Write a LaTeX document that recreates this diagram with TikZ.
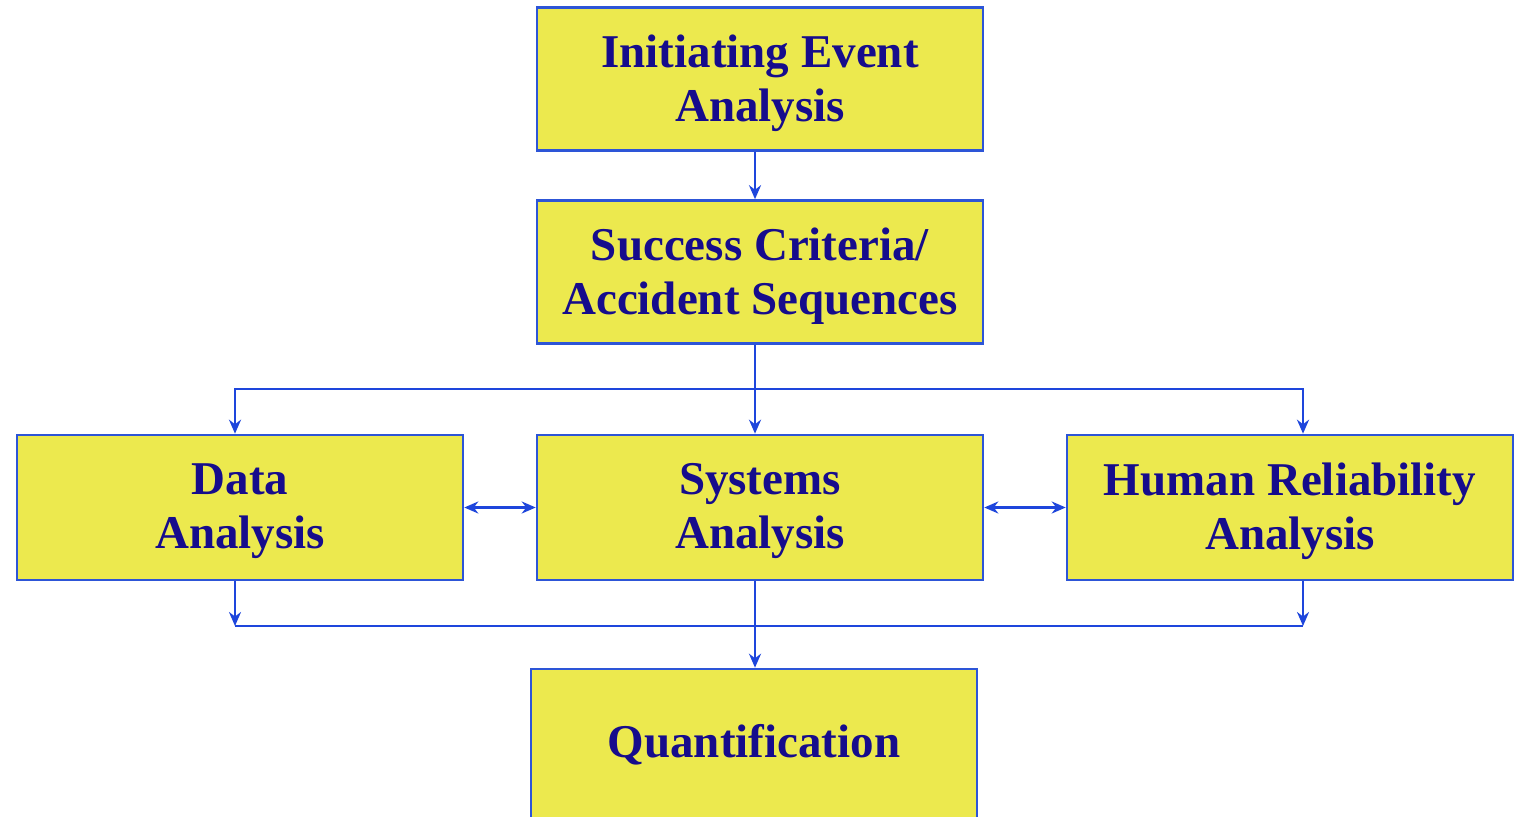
\documentclass[tikz,border=0pt]{standalone}
\usepackage{fontspec}
\setmainfont{Liberation Serif}
\usetikzlibrary{arrows.meta}
\definecolor{boxfill}{RGB}{236,233,78}
\definecolor{boxline}{RGB}{45,85,215}
\definecolor{txt}{RGB}{22,12,140}
\definecolor{conn}{RGB}{30,70,220}
\tikzset{
  blk/.style={draw=boxline, line width=2.6pt, fill=boxfill, minimum width=446pt,
    minimum height=143pt, inner sep=0pt},
  lbl/.style={inner sep=0pt, align=center, text=txt,
    font=\fontsize{47}{54}\selectfont\bfseries},
  arr/.style={draw=conn, line width=2.4pt, -{Stealth[length=14pt,width=12pt]}},
  arrtwo/.style={draw=conn, line width=2.4pt, {Stealth[length=14pt,width=12pt]}-{Stealth[length=14pt,width=12pt]}},
  ln/.style={draw=conn, line width=2.4pt}
}
\begin{document}
\begin{tikzpicture}[x=1pt,y=-1pt]
\useasboundingbox (0,0) rectangle (1522,816);
\fill[white] (0,0) rectangle (1522,816);
\node[blk] (ie) at (760,79) {};
\node[lbl] (ietext) at ([yshift=-4pt]ie.center) {Initiating Event\\Analysis};
\node[blk] (sc) at (760,272) {};
\node[lbl] (sctext) at ([yshift=-4pt]sc.center) {Success Criteria/\\Accident Sequences};
\node[blk, minimum height=145pt] (da) at (240,507.5) {};
\node[lbl] (datext) at ([yshift=-4pt]da.center) {Data\\Analysis};
\node[blk, minimum height=145pt] (sys) at (760,507.5) {};
\node[lbl] (systext) at ([yshift=-4pt]sys.center) {Systems\\Analysis};
\node[blk, minimum height=145pt] (hr) at (1290,507.5) {};
\node[lbl] (hrtext) at ([yshift=-4pt]hr.center) {Human Reliability\\Analysis};
\node[blk, minimum height=150pt] (qu) at (754,744) {};
\node[lbl] (qutext) at ([yshift=-1pt]qu.center) {Quantification};
\coordinate (busa) at (755,389);
\coordinate (busb) at (755,626);
\draw[arr] ([xshift=-5pt]ie.south) -- ([xshift=-5pt]sc.north);
\draw[ln] ([xshift=-5pt]sc.south) -- (busa);
\draw[arr] (busa) -- ([xshift=-5pt]sys.north);
\draw[arr] (busa) -| ([xshift=-5pt]da.north);
\draw[arr] (busa) -| ([xshift=13pt]hr.north);
\draw[arrtwo] (da.east) -- (sys.west);
\draw[arrtwo] (sys.east) -- (hr.west);
\draw[arr] ([xshift=-5pt]da.south) -- ([xshift=-5pt]da.south |- busb);
\draw[arr] ([xshift=13pt]hr.south) -- ([xshift=13pt]hr.south |- busb);
\draw[ln] ([xshift=-5pt]da.south |- busb) -- ([xshift=13pt]hr.south |- busb);
\draw[arr] ([xshift=-5pt]sys.south) -- ([xshift=-5pt]sys.south |- qu.north);
\end{tikzpicture}
\end{document}
